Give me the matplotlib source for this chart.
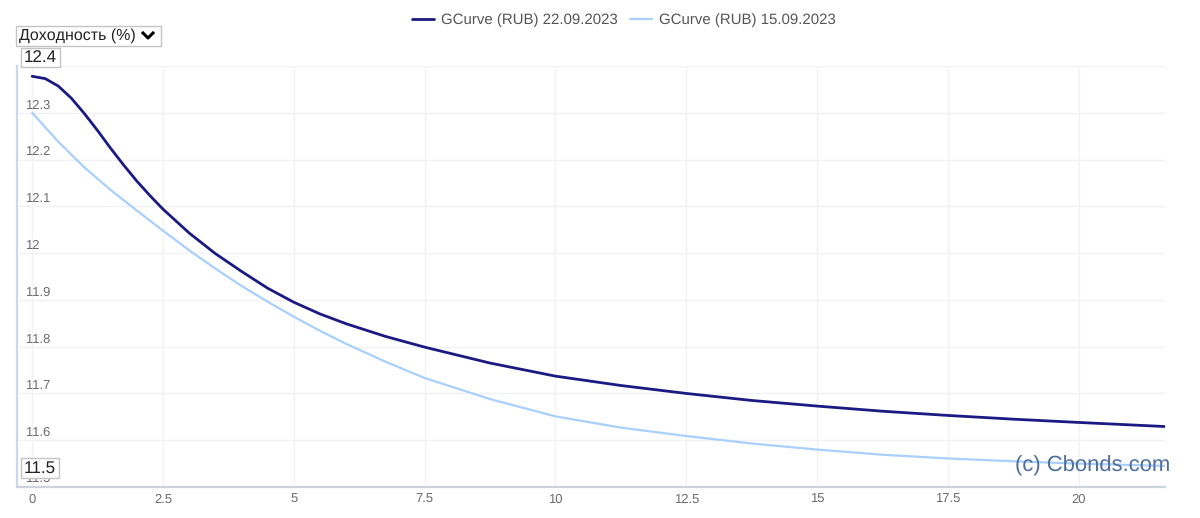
import matplotlib.pyplot as plt
from matplotlib.lines import Line2D
from matplotlib.patches import Rectangle

plt.rcParams['font.family'] = ['Liberation Sans', 'DejaVu Sans']
plt.rcParams['text.hinting'] = 'no_hinting'
plt.rcParams['text.hinting_factor'] = 1

# years to maturity / yield (%)
x_0922 = [0, 0.25, 0.5, 0.75, 1.0, 1.25, 1.5, 1.75, 2.0, 2.25, 2.5, 3.0, 3.5, 4.0,
          4.5, 5.0, 5.5, 6.0, 6.75, 7.5, 8.75, 10, 11.25, 12.5, 13.75, 15, 16.25,
          17.5, 18.75, 20, 21.7]
y_0922 = [12.378, 12.373, 12.357, 12.331, 12.298, 12.262, 12.224, 12.188, 12.154,
          12.123, 12.094, 12.043, 11.999, 11.961, 11.925, 11.895, 11.87, 11.849, 11.822,
          11.799, 11.765, 11.737, 11.717, 11.70, 11.685, 11.673, 11.662, 11.653, 11.645,
          11.638, 11.629]

x_0915 = [0, 0.5, 1.0, 1.5, 2.0, 2.5, 3.0, 3.5, 4.0, 4.5, 5.0, 5.5, 6.0, 6.75, 7.5,
          8.75, 10, 11.25, 12.5, 13.75, 15, 16.25, 17.5, 18.75, 20, 21.7]
y_0915 = [12.300, 12.238, 12.183, 12.135, 12.091, 12.048, 12.006, 11.967, 11.93, 11.896,
          11.864, 11.834, 11.806, 11.768, 11.733, 11.688, 11.651, 11.627, 11.609, 11.593,
          11.58, 11.569, 11.561, 11.555, 11.55, 11.545]

labels = ["GCurve (RUB) 22.09.2023", "GCurve (RUB) 15.09.2023"]
xticks = [0, 2.5, 5, 7.5, 10, 12.5, 15, 17.5, 20]
xtick_labels = ["0", "2.5", "5", "7.5", "10", "12.5", "15", "17.5", "20"]
yticks = [11.5, 11.6, 11.7, 11.8, 11.9, 12.0, 12.1, 12.2, 12.3, 12.4]
ytick_labels = ["11.5", "11.6", "11.7", "11.8", "11.9", "12", "12.1", "12.2", "12.3", ""]

W, H = 1200, 518
fig = plt.figure(figsize=(12, 5.18), dpi=100)
ax = fig.add_axes([17 / W, 1 - 487 / H, (1165 - 17) / W, (487 - 66) / H])

ax.plot(x_0922, y_0922, color="#1b1a82", lw=2.0, label=labels[0], solid_capstyle="round")
ax.plot(x_0915, y_0915, color="#a9d0fc", lw=1.6, label=labels[1], solid_capstyle="round")

ax.set_xlim(-0.29, 21.65)
ax.set_ylim(11.5, 12.4)
ax.set_xticks(xticks)
ax.set_xticklabels(xtick_labels)
ax.set_yticks(yticks)
ax.set_yticklabels([])
ax.tick_params(axis="x", length=0, pad=5, labelsize=9, labelcolor="#6b6b6b")
ax.tick_params(axis="y", length=0)
ax.grid(True, color="#f0f2f5", lw=1)
ax.set_axisbelow(True)

for s in ["top", "right"]:
    ax.spines[s].set_visible(False)
ax.spines["left"].set_color("#c9d8ec")
ax.spines["left"].set_linewidth(1.6)
ax.spines["bottom"].set_color("#ccd3dd")
ax.spines["bottom"].set_linewidth(1.6)

# y labels sit inside the plot, just above the gridline
for v, t in zip(yticks, ytick_labels):
    if t:
        ax.annotate(t, xy=(0, v), xycoords=ax.get_yaxis_transform(), xytext=(6, 1),
                    textcoords="offset points", ha="left", va="bottom",
                    fontsize=9, color="#6b6b6b")


# boxed labels
def box_text(x0, y0, x1, y1, text, size=12):
    fig.add_artist(Rectangle((x0 / W, 1 - y1 / H), (x1 - x0) / W, (y1 - y0) / H,
                             facecolor="white", edgecolor="#c4c4c4", lw=1,
                             transform=fig.transFigure))
    fig.text((x0 + 3) / W, 1 - (y0 + y1) / 2 / H, text, ha="left", va="center",
             fontsize=size, color="#222222")


box_text(16, 26, 161, 46, "Доходность (%)", size=11.2)
# chevron
fig.add_artist(Line2D([143 / W, 148 / W, 153 / W],
                      [1 - 33 / H, 1 - 38 / H, 1 - 33 / H],
                      color="black", lw=2.2, transform=fig.transFigure))
box_text(21, 48, 60, 67, "12.4")
box_text(21, 458, 59, 478, "11.5")

fig.text(1170 / W, 1 - 466 / H, "(c) Cbonds.com", ha="right", va="center",
         fontsize=16, color="#4f6f99")

fig.legend(loc="upper center", bbox_to_anchor=(0.52, 1.0), ncol=2, frameon=False,
           fontsize=10.5, labelcolor="#555555", handlelength=1.5, columnspacing=0.8,
           handletextpad=0.5)

fig.savefig("out.png", dpi=100, facecolor="white")
